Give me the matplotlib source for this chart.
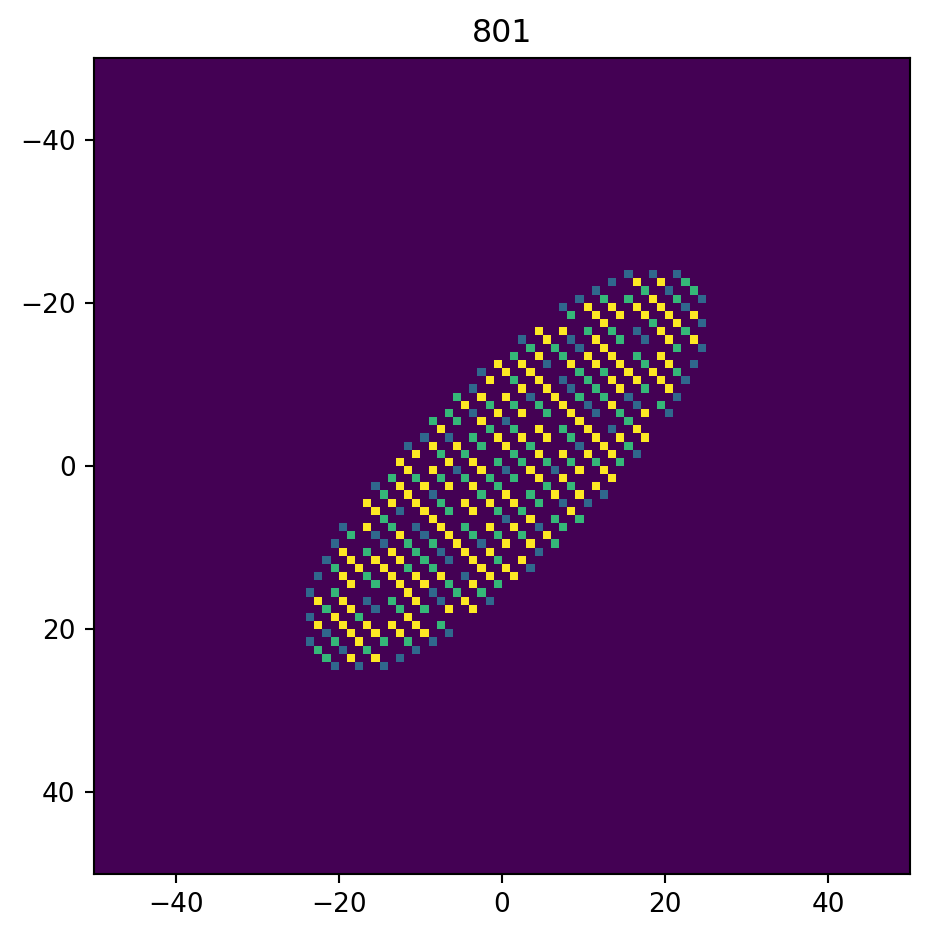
import numpy as np
import matplotlib
matplotlib.use("Agg")
import matplotlib.pyplot as plt

title = "801"
grid_size = 100
ticks = [-40, -20, 0, 20, 40]

# Cell levels: row index -> column indices (0..99 from top-left)
low_cells = {
    26: [65, 68, 71], 27: [63], 28: [61, 70], 29: [59, 74], 30: [57, 72], 32: [74],
    33: [66], 34: [52, 58, 67], 35: [59, 74], 37: [55, 73], 38: [47], 39: [57, 72],
    40: [46, 58], 41: [53, 65, 71], 42: [60, 66], 43: [46, 61, 70], 44: [50],
    45: [63], 46: [40, 43], 47: [38, 59], 48: [66], 50: [44, 50, 56], 52: [34],
    53: [41, 62], 54: [57, 60], 55: [37], 56: [50], 57: [30, 39, 54], 58: [34, 40],
    59: [29, 35, 47], 60: [42, 54], 61: [28, 43], 62: [53], 63: [27, 45], 65: [26, 41],
    66: [33, 42, 48], 67: [34], 68: [26], 70: [28, 43], 71: [26, 41], 72: [30, 39],
    73: [37], 74: [29, 32, 35],
}
mid_cells = {
    27: [72], 28: [67, 73], 29: [62, 65, 71], 31: [58], 32: [68], 33: [60, 63, 72],
    34: [64], 35: [53, 56, 71], 36: [51, 57, 66], 37: [67], 38: [59, 62, 71],
    39: [51, 60], 40: [61, 67], 41: [44, 59, 62], 42: [48, 51, 54, 69],
    43: [43, 55, 64], 44: [41, 44, 65], 45: [48, 51, 57], 46: [46, 58],
    47: [47, 53, 65], 48: [42, 45, 51], 49: [49, 52, 55, 58, 61, 64],
    51: [36, 39, 42, 45, 48, 51], 52: [49, 55, 58], 53: [35, 47, 53], 54: [42, 54],
    55: [43, 49, 52], 56: [35, 56, 59], 57: [36, 45, 57], 58: [31, 46, 49, 52],
    59: [38, 41, 56], 60: [33, 39], 61: [40, 49], 62: [29, 38, 41], 63: [33],
    64: [34, 43, 49], 65: [29, 44, 47], 66: [36], 67: [28, 37, 40], 68: [32],
    69: [42], 71: [29, 35, 38], 72: [27, 33], 73: [28],
}
high_cells = {
    27: [66, 69], 29: [68], 30: [60, 63, 66, 69], 31: [61, 64, 67, 70, 73],
    32: [62, 71], 33: [54, 57, 69], 34: [55, 61, 70, 73], 35: [62],
    36: [54, 60, 63, 69], 37: [49, 52, 58, 61, 64, 70], 38: [50, 53, 65, 68],
    39: [48, 54, 63, 66, 69], 40: [52, 55, 64, 70], 41: [47, 50, 56],
    42: [45, 57, 63], 43: [49, 52, 58, 67], 44: [47, 59], 45: [42, 54, 60, 66],
    46: [49, 52, 55, 61, 64, 67], 47: [41, 44, 50, 62], 48: [39, 54, 57, 60, 63],
    49: [37, 43, 46], 50: [38, 41, 47, 53, 59, 62], 51: [54, 57, 63],
    52: [37, 40, 43, 46, 61], 53: [38, 50, 56, 59], 54: [33, 36, 39, 45, 48, 51],
    55: [34, 40, 46, 58], 56: [41, 53], 57: [33, 42, 48, 51], 58: [37, 43, 55],
    59: [44, 50, 53], 60: [30, 36, 45, 48], 61: [31, 34, 37, 46, 52],
    62: [32, 35, 47, 50], 63: [30, 36, 39, 42, 48, 51], 64: [31, 37, 40, 46],
    65: [38], 66: [27, 30, 39, 45], 67: [31, 43, 46], 68: [29, 38],
    69: [27, 30, 33, 36, 39], 70: [31, 34, 37, 40], 71: [32], 73: [31, 34],
}

image = np.zeros((grid_size, grid_size))
for level, cells in ((1, low_cells), (2, mid_cells), (3, high_cells)):
    for row, cols in cells.items():
        image[row, cols] = level

W, H = 929, 938
DPI = 190
fig = plt.figure(figsize=(W / DPI, H / DPI), dpi=DPI)
ax = fig.add_axes([94 / W, 1 - 874 / H, 816 / W, 816 / H])
half = grid_size / 2
ax.imshow(image, cmap="viridis", vmin=0, vmax=3, interpolation="nearest",
          extent=[-half, half, half, -half], aspect="auto")
ax.set_xticks(ticks)
ax.set_yticks(ticks)
ax.set_title(title)
fig.savefig("out.png", dpi=DPI)
